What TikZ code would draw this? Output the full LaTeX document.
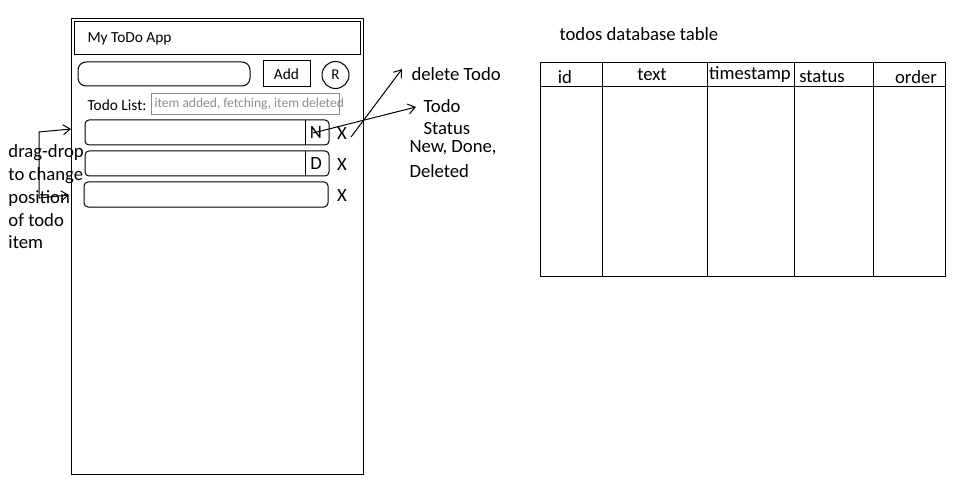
\documentclass[tikz,border=0pt]{standalone}
\usepackage{fontspec}
\setmainfont{Carlito}
\usetikzlibrary{arrows.meta}
\definecolor{hint}{RGB}{140,140,140}
\begin{document}
\begin{tikzpicture}[x=1pt, y=-1pt, line width=1pt,
	frame/.style={draw, anchor=north west, inner sep=0pt, outer sep=0pt},
	item/.style={frame, rounded corners=4pt, minimum width=244pt, minimum height=25pt},
	lbl/.style={anchor=west, inner sep=0pt, font=\fontsize{18.7}{22}\selectfont},
	small/.style={inner sep=0pt, font=\fontsize{15.4}{18}\selectfont},
	ptr/.style={-{Straight Barb[length=7pt,width=10pt]}}]
	\useasboundingbox (0,0) rectangle (959,492);
	% phone mock-up
	\node[frame, minimum width=292pt, minimum height=455pt] at (71,19) (phone) {};
	\node[frame, minimum width=286pt, minimum height=33pt] at (74,22) (title) {};
	\node[small, anchor=west] at (87,39) (apptitle) {My ToDo App};
	\node[frame, rounded corners=8pt, minimum width=172pt, minimum height=24pt] at (78,62) (input) {};
	\node[frame, minimum width=47pt, minimum height=26pt] at (263,61) (add) {};
	\node[small] at (add.center) (addtxt) {Add};
	\node[draw, circle, inner sep=0pt, minimum size=27pt, font=\fontsize{15}{18}\selectfont] at (335.5,75) (refresh) {R};
	\node[small, anchor=west] at (87,105) (listlbl) {Todo List:};
	\node[frame, draw=hint, minimum width=188pt, minimum height=21pt] at (151,94) (status) {};
	\node[anchor=west, inner sep=0pt, text=hint, font=\fontsize{13.5}{16}\selectfont] at (154,104) (statustxt) {item added, fetching, item deleted};
	% todo rows
	\node[item] at (85,120) (1) {};
	\node[item] at (85,151) (2) {};
	\node[item] at (84,182) (3) {};
	\draw ([xshift=-24pt]1.north east) -- ([xshift=-24pt]1.south east);
	\draw ([xshift=-24pt]2.north east) -- ([xshift=-24pt]2.south east);
	\node[lbl, anchor=center] at (316,133) (n) {N};
	\node[lbl, anchor=center] at (316,164) (d) {D};
	\node[lbl, anchor=center] at (342,134) (x1) {X};
	\node[lbl, anchor=center] at (342,165) (x2) {X};
	\node[lbl, anchor=center] at (342,196) (x3) {X};
	% notes
	\node[anchor=north west, inner sep=0pt, align=left, font=\fontsize{18.7}{22.75}\selectfont] at (8,144.5) (drag) {drag-drop\\to change\\position\\of todo\\item};
	\node[lbl] at (411,74) (del) {delete Todo};
	\node[lbl] at (423,106) (st1) {Todo};
	\node[lbl] at (423,129) (st2) {Status};
	\node[lbl] at (409,148) (st3) {New, Done,};
	\node[lbl] at (409,171) (st4) {Deleted};
	\coordinate (dtop) at (39,132);
	\coordinate (dbot) at (39,198);
	\coordinate (tipa) at (71,129);
	\coordinate (tipb) at (69,195);
	\draw[{Straight Barb[length=7pt,width=10pt]}-{Straight Barb[length=7pt,width=10pt]}] (tipb) -- (dbot) -- (dtop) -- (tipa);
	\coordinate (xfrom) at (351,137);
	\coordinate (deltip) at (402,69);
	\coordinate (nfrom) at (313,133);
	\coordinate (sttip) at (416,107);
	\draw[ptr] (xfrom) -- (deltip);
	\draw[ptr] (nfrom) -- (sttip);
	% database table
	\node[lbl] at (559,34) (dbtitle) {todos database table};
	\draw (540,63) rectangle (945,276);
	\draw (540,87) -- (945,87);
	\foreach \x in {602,707,794,873}
		\draw (\x,63) -- (\x,276);
	\node[lbl, anchor=center] at (565,77) (id) {id};
	\node[lbl, anchor=center] at (652,75) (text) {text};
	\node[lbl, anchor=center] at (750,75) (stamp) {timestamp};
	\node[lbl, anchor=center] at (822,77) (stat) {status};
	\node[lbl, anchor=center] at (916,77) (order) {order};
\end{tikzpicture}
\end{document}
